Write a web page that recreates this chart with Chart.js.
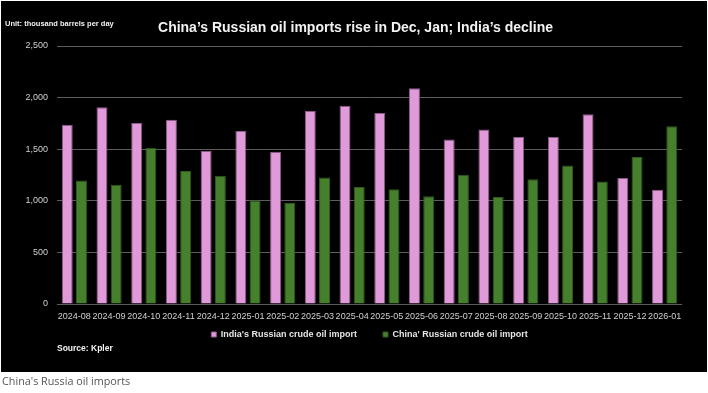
<!DOCTYPE html>
<html>
<head>
<meta charset="utf-8">
<script src="https://cdn.jsdelivr.net/npm/chart.js@4/dist/chart.umd.min.js"></script>
<style>
  html,body{margin:0;padding:0;background:#fff;width:708px;height:393px;overflow:hidden;}
  #wrap{position:absolute;left:1px;top:1px;width:706px;height:371px;background:#000;}
  #c{position:absolute;left:0;top:0;}
  .t{position:absolute;white-space:nowrap;font-family:"Liberation Sans",Arial,sans-serif;font-weight:bold;color:#f2f2f2;line-height:1;}
  #title{left:0;width:709px;text-align:center;top:19px;font-size:14px;}
  #unit{left:4px;top:19px;font-size:7.5px;}
  #source{left:56px;top:343px;font-size:8.5px;}
  #caption{position:absolute;left:2px;top:375px;font-family:"Open Sans",sans-serif;font-size:10.8px;color:#555;white-space:nowrap;line-height:1.2;}
</style>
</head>
<body>
<div id="wrap">
  <canvas id="c" width="706" height="371"></canvas>
  <div class="t" id="title">China’s Russian oil imports rise in Dec, Jan; India’s decline</div>
  <div class="t" id="unit">Unit: thousand barrels per day</div>
  <div class="t" id="source">Source: Kpler</div>
</div>
<div id="caption">China's Russia oil imports</div>
<script>
const months = ["2024-08","2024-09","2024-10","2024-11","2024-12","2025-01","2025-02","2025-03","2025-04","2025-05","2025-06","2025-07","2025-08","2025-09","2025-10","2025-11","2025-12","2026-01"];
const indiaImports = [1738,1906,1754,1786,1485,1677,1476,1871,1922,1851,2090,1595,1692,1618,1618,1838,1220,1107];
const chinaImports = [1197,1155,1515,1288,1243,1003,978,1226,1133,1113,1045,1252,1036,1210,1343,1188,1424,1722];
const indiaLabel = "India's Russian crude oil import";
const chinaLabel = "China' Russian crude oil import";
const yTicks = [0,500,1000,1500,2000,2500];

const FONT = '"Liberation Sans", Arial, sans-serif';

const legendShift = {
  id: 'legendShift',
  afterLayout(chart) {
    const l = chart.legend;
    if (l) { l.top -= 18; l.bottom -= 18; }
  }
};

new Chart(document.getElementById('c'), {
  type: 'bar',
  data: {
    labels: months,
    datasets: [
      {label: indiaLabel, data: indiaImports, backgroundColor: '#E19AD9', borderColor: '#8c5a88', borderWidth: 1,
       barPercentage: 0.77, categoryPercentage: 0.82},
      {label: chinaLabel, data: chinaImports, backgroundColor: '#47802C', borderColor: '#2f5a1d', borderWidth: 1,
       barPercentage: 0.77, categoryPercentage: 0.82}
    ]
  },
  plugins: [legendShift],
  options: {
    responsive: false,
    animation: false,
    devicePixelRatio: 1,
    layout: {padding: {top: 45, right: 25, left: 0, bottom: 5}},
    plugins: {
      title: {display: false},
      tooltip: {enabled: false},
      legend: {
        display: true,
        position: 'bottom',
        fullSize: false,
        labels: {
          boxWidth: 5, boxHeight: 5, padding: 26,
          color: '#e6e6e6',
          font: {family: FONT, size: 9, weight: 'bold'}
        }
      }
    },
    scales: {
      x: {
        grid: {display: false, drawTicks: false},
        border: {display: false},
        ticks: {color: '#cfcfcf', font: {family: FONT, size: 9}, padding: 7, maxRotation: 0, autoSkip: false},
        afterFit(s){ s.height = 18; }
      },
      y: {
        min: 0, max: 2500,
        z: 1,
        afterBuildTicks(s){ s.ticks = yTicks.map(v => ({value: v})); },
        grid: {color: '#5c5c5c', lineWidth: 1, drawTicks: false},
        border: {display: false},
        ticks: {color: '#cfcfcf', font: {family: FONT, size: 9}, padding: 9,
                callback: v => v.toLocaleString('en-US')},
        afterFit(s){ s.width = 56; }
      }
    }
  }
});
</script>
</body>
</html>
